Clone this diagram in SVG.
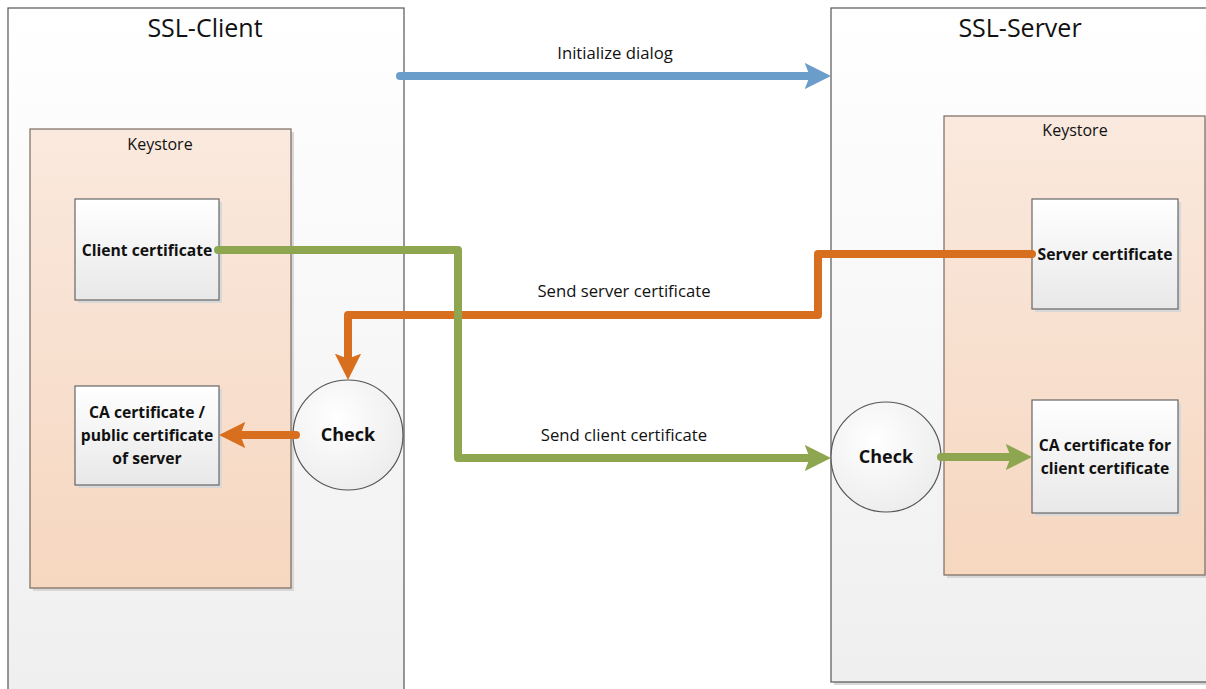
<svg xmlns="http://www.w3.org/2000/svg" width="1206" height="689" viewBox="0 0 1206 689">
  <defs>
    <linearGradient id="gPanel" x1="0" y1="0" x2="0" y2="1">
      <stop offset="0" stop-color="#ffffff"/>
      <stop offset="1" stop-color="#efefef"/>
    </linearGradient>
    <linearGradient id="gKey" x1="0" y1="0" x2="0" y2="1">
      <stop offset="0" stop-color="#fae9de"/>
      <stop offset="1" stop-color="#f6d7c0"/>
    </linearGradient>
    <linearGradient id="gBox" x1="0" y1="0" x2="0" y2="1">
      <stop offset="0" stop-color="#ffffff"/>
      <stop offset="1" stop-color="#e8e8e8"/>
    </linearGradient>
    <radialGradient id="gCircle" cx="0.4" cy="0.35" r="0.7">
      <stop offset="0" stop-color="#ffffff"/>
      <stop offset="1" stop-color="#ececec"/>
    </radialGradient>
    <!-- arrowheads: tip sits 14px beyond the path end so the round cap stays hidden -->
    <marker id="aBlue" viewBox="0 0 10 10" refX="4.7" refY="5" markerWidth="3.3" markerHeight="3.3" orient="auto" markerUnits="strokeWidth">
      <path d="M0,0 L10,5 L0,10 L2,5 Z" fill="#6b9dca"/>
    </marker>
    <marker id="aGreen" viewBox="0 0 10 10" refX="4.7" refY="5" markerWidth="3.3" markerHeight="3.3" orient="auto" markerUnits="strokeWidth">
      <path d="M0,0 L10,5 L0,10 L2,5 Z" fill="#8ea64f"/>
    </marker>
    <marker id="aOrange" viewBox="0 0 10 10" refX="4.7" refY="5" markerWidth="3.3" markerHeight="3.3" orient="auto" markerUnits="strokeWidth">
      <path d="M0,0 L10,5 L0,10 L2,5 Z" fill="#d76f1e"/>
    </marker>
  </defs>
  <style>
    .panel { fill: url(#gPanel); stroke: #555; stroke-width: 1.2; }
    .key { fill: url(#gKey); stroke: #7a6a60; stroke-width: 1.2; }
    .box { fill: url(#gBox); stroke: #666; stroke-width: 1.2; }
    .circ { fill: url(#gCircle); stroke: #555; stroke-width: 1.2; }
    .shadow { fill: #d8d8d8; }
    .title { font-family: "Open Sans", "Liberation Sans", sans-serif; font-size: 25px; fill: #111; text-anchor: middle; }
    .ks { font-family: "Open Sans", "Liberation Sans", sans-serif; font-size: 16px; fill: #111; text-anchor: middle; }
    .lbl { font-family: "Open Sans", "Liberation Sans", sans-serif; font-size: 16.7px; fill: #111; text-anchor: middle; }
    .bold { font-family: "Open Sans", "Liberation Sans", sans-serif; font-size: 15.7px; font-weight: bold; fill: #111; text-anchor: middle; }
    .chk { font-family: "Open Sans", "Liberation Sans", sans-serif; font-size: 18px; font-weight: bold; fill: #111; text-anchor: middle; }
    .wire { fill: none; stroke-width: 8; stroke-linecap: round; stroke-linejoin: round; }
    .blue { stroke: #6b9dca; }
    .green { stroke: #8ea64f; }
    .orange { stroke: #d76f1e; }
  </style>

  <rect width="1206" height="689" fill="#ffffff"/>

  <!-- client side -->
  <g id="ssl-client">
    <rect x="8" y="8" width="396" height="690" class="panel"/>
    <text x="205" y="37" class="title">SSL-Client</text>
  </g>
  <g id="client-keystore">
    <rect x="33" y="132" width="261" height="459" class="shadow"/>
    <rect x="30" y="129" width="261" height="459" class="key"/>
    <text x="160" y="150" class="ks">Keystore</text>
  </g>
  <g id="client-certificate">
    <rect x="78" y="202" width="144" height="101" class="shadow"/>
    <rect x="75" y="199" width="144" height="101" class="box"/>
    <text x="147" y="256" class="bold">Client certificate</text>
  </g>
  <g id="client-ca-certificate">
    <rect x="78" y="389" width="144" height="99" class="shadow"/>
    <rect x="75" y="386" width="144" height="99" class="box"/>
    <text x="147" y="418" class="bold">CA certificate /</text>
    <text x="147" y="441" class="bold">public certificate</text>
    <text x="147" y="464" class="bold">of server</text>
  </g>
  <g id="client-check">
    <circle cx="348" cy="435" r="55" class="circ"/>
    <text x="348" y="441" class="chk">Check</text>
  </g>

  <!-- server side -->
  <g id="ssl-server">
    <rect x="834" y="11" width="380" height="674" class="shadow"/>
    <rect x="831" y="8" width="380" height="674" class="panel"/>
    <text x="1020" y="37" class="title">SSL-Server</text>
  </g>
  <g id="server-keystore">
    <rect x="947" y="119" width="261" height="459" class="shadow"/>
    <rect x="944" y="116" width="261" height="459" class="key"/>
    <text x="1075" y="136" class="ks">Keystore</text>
  </g>
  <g id="server-certificate">
    <rect x="1035" y="202" width="146" height="110" class="shadow"/>
    <rect x="1032" y="199" width="146" height="110" class="box"/>
    <text x="1105" y="260" class="bold">Server certificate</text>
  </g>
  <g id="server-ca-certificate">
    <rect x="1035" y="403" width="146" height="113" class="shadow"/>
    <rect x="1032" y="400" width="146" height="113" class="box"/>
    <text x="1105" y="451" class="bold">CA certificate for</text>
    <text x="1105" y="474" class="bold">client certificate</text>
  </g>
  <g id="server-check">
    <circle cx="886" cy="457" r="55" class="circ"/>
    <text x="886" y="463" class="chk">Check</text>
  </g>

  <!-- connectors (green drawn last so it passes over the orange line) -->
  <g id="connectors">
    <path d="M400,76 L817,76" class="wire blue" marker-end="url(#aBlue)"/>
    <path d="M1032,254 L818,254 L818,315 L348,315 L348,366" class="wire orange" marker-end="url(#aOrange)"/>
    <path d="M296,435 L233,435" class="wire orange" marker-end="url(#aOrange)"/>
    <path d="M218,250 L458,250 L458,458 L817,458" class="wire green" marker-end="url(#aGreen)"/>
    <path d="M941,457 L1018,457" class="wire green" marker-end="url(#aGreen)"/>
    <text x="615" y="59" class="lbl">Initialize dialog</text>
    <text x="624" y="297" class="lbl">Send server certificate</text>
    <text x="624" y="441" class="lbl">Send client certificate</text>
  </g>
</svg>
